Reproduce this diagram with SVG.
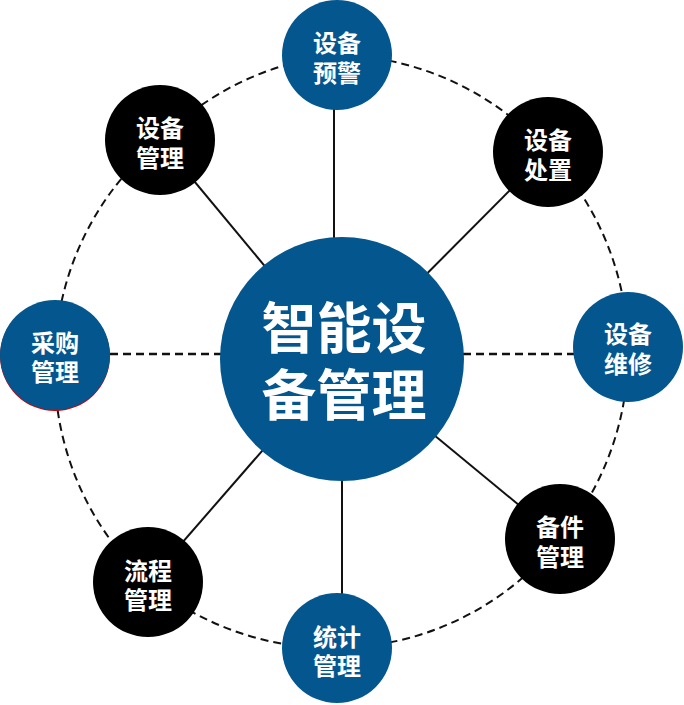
<svg xmlns="http://www.w3.org/2000/svg" width="684" height="705" viewBox="0 0 684 705">
<style>
.ring{fill:none;stroke:#111;stroke-width:2;stroke-dasharray:8 5}
.dash{fill:none;stroke:#111;stroke-width:2.5;stroke-dasharray:8 5}
.solid{stroke:#111;stroke-width:2}
.blue{fill:#04568F}
.black{fill:#000}
.t{font-family:"Noto Sans CJK SC","Microsoft YaHei",sans-serif;font-weight:700;fill:#fff;text-anchor:middle;dominant-baseline:central}
.s{font-size:24px}
.big{font-size:55px}
</style>
<rect width="684" height="705" fill="#fff"/>
<g id="connectors">
<path class="ring" d="M337,55 A290,290 0 0 1 548,152 A290,290 0 0 1 628,347 A290,290 0 0 1 560,539 A290,290 0 0 1 337,648 A290,290 0 0 1 148,582 A290,290 0 0 1 55,355 A290,290 0 0 1 160,140 A290,290 0 0 1 337,55 Z"/>
<line class="dash" x1="110" y1="354" x2="222" y2="354"/>
<line class="dash" x1="463" y1="354" x2="574" y2="354"/>
<line class="solid" x1="334" y1="105" x2="334" y2="240"/>
<line class="solid" x1="160" y1="140" x2="342" y2="359"/>
<line class="solid" x1="548" y1="152" x2="342" y2="359"/>
<line class="solid" x1="560" y1="539" x2="342" y2="359"/>
<line class="solid" x1="342" y1="478" x2="342" y2="600"/>
<line class="solid" x1="148" y1="582" x2="342" y2="359"/>
</g>
<g id="center">
<circle class="blue" cx="342" cy="359" r="122"/>
<text class="t big"><tspan x="344" y="324">智能设</tspan><tspan x="344" y="391">备管理</tspan></text>
</g>
<g id="n-yujing">
<circle class="blue" cx="337" cy="55" r="55"/>
<text class="t s"><tspan x="337" y="41">设备</tspan><tspan x="337" y="71">预警</tspan></text>
</g>
<g id="n-chuzhi">
<circle class="black" cx="548" cy="152" r="55"/>
<text class="t s"><tspan x="548" y="138">设备</tspan><tspan x="548" y="168">处置</tspan></text>
</g>
<g id="n-weixiu">
<circle class="blue" cx="628" cy="347" r="55"/>
<text class="t s"><tspan x="628" y="332">设备</tspan><tspan x="628" y="362">维修</tspan></text>
</g>
<g id="n-beijian">
<circle class="black" cx="560" cy="539" r="55"/>
<text class="t s"><tspan x="560" y="525">备件</tspan><tspan x="560" y="555">管理</tspan></text>
</g>
<g id="n-tongji">
<circle class="blue" cx="337" cy="648" r="55"/>
<text class="t s"><tspan x="337" y="635">统计</tspan><tspan x="337" y="664">管理</tspan></text>
</g>
<g id="n-liucheng">
<circle class="black" cx="148" cy="582" r="55"/>
<text class="t s"><tspan x="148" y="569">流程</tspan><tspan x="148" y="598">管理</tspan></text>
</g>
<g id="n-caigou">
<circle cx="55" cy="356" r="55" fill="#d00000"/>
<circle class="blue" cx="55" cy="355" r="55"/>
<text class="t s"><tspan x="55" y="341">采购</tspan><tspan x="55" y="370">管理</tspan></text>
</g>
<g id="n-guanli">
<circle class="black" cx="160" cy="140" r="55"/>
<text class="t s"><tspan x="160" y="126">设备</tspan><tspan x="160" y="156">管理</tspan></text>
</g>
</svg>
